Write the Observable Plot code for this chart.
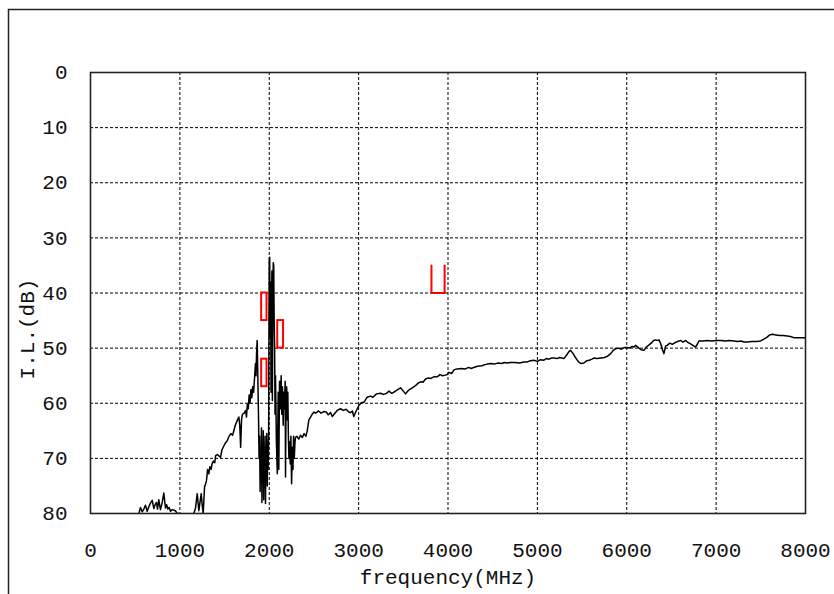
<!DOCTYPE html>
<html>
<head>
<meta charset="utf-8">
<script src="https://cdn.jsdelivr.net/npm/d3@7"></script>
<script src="https://cdn.jsdelivr.net/npm/@observablehq/plot@0.6"></script>
<style>
  html, body { margin: 0; padding: 0; background: #fff; }
  #chart svg { display: block; }
</style>
</head>
<body>
<div id="chart"></div>
<script>
// Measured insertion loss (frequency in MHz, I.L. in dB)
const freq = [
  500, 541, 559, 578, 596, 615, 634, 652, 671, 690, 709, 725, 738, 750, 764, 783, 800, 820, 839, 852,
  865, 880, 895, 912, 932, 950, 970, 1000, 1050, 1100, 1140, 1156, 1175, 1194, 1212, 1225, 1239, 1250, 1261, 1276,
  1290, 1298, 1310, 1324, 1335, 1350, 1360, 1375, 1390, 1400, 1420, 1440, 1455, 1470, 1490, 1510, 1530, 1550, 1570, 1590,
  1605, 1620, 1640, 1650, 1660, 1670, 1680, 1690, 1700, 1720, 1735, 1745, 1755, 1765, 1775, 1785, 1795, 1805, 1815, 1825,
  1835, 1846, 1852, 1858, 1865, 1872, 1880, 1886, 1892, 1898, 1903, 1908, 1913, 1918, 1923, 1928, 1933, 1938, 1943, 1948,
  1953, 1958, 1963, 1968, 1973, 1978, 1983, 1988, 1993, 1997, 2000, 2005, 2010, 2015, 2020, 2025, 2030, 2035, 2040, 2045,
  2050, 2055, 2060, 2065, 2070, 2080, 2090, 2100, 2107, 2115, 2125, 2133, 2140, 2148, 2156, 2163, 2170, 2178, 2182, 2188,
  2195, 2201, 2208, 2214, 2220, 2228, 2235, 2242, 2250, 2258, 2265, 2272, 2280, 2288, 2294, 2310, 2330, 2350, 2370, 2390,
  2410, 2425, 2443, 2462, 2480, 2500, 2520, 2552, 2580, 2610, 2640, 2660, 2686, 2705, 2730, 2760, 2797, 2830, 2860, 2890,
  2909, 2930, 2946, 2970, 3003, 3030, 3060, 3096, 3130, 3160, 3200, 3245, 3280, 3310, 3340, 3370, 3394, 3420, 3450, 3469,
  3500, 3525, 3560, 3600, 3637, 3670, 3700, 3720, 3749, 3780, 3810, 3840, 3879, 3910, 3940, 3970, 3991, 4010, 4040, 4070,
  4103, 4150, 4190, 4230, 4260, 4289, 4330, 4380, 4410, 4439, 4480, 4520, 4560, 4600, 4630, 4663, 4700, 4750, 4800, 4850,
  4887, 4920, 4960, 5000, 5036, 5070, 5100, 5130, 5160, 5185, 5220, 5250, 5275, 5297, 5330, 5355, 5371, 5400, 5430, 5460,
  5490, 5520, 5550, 5580, 5610, 5632, 5670, 5710, 5750, 5782, 5820, 5850, 5875, 5910, 5940, 5970, 6006, 6030, 6060, 6080,
  6099, 6130, 6160, 6192, 6220, 6250, 6280, 6300, 6322, 6340, 6360, 6380, 6400, 6416, 6435, 6453, 6480, 6510, 6540, 6570,
  6602, 6630, 6660, 6677, 6710, 6740, 6770, 6790, 6807, 6850, 6900, 6950, 7012, 7060, 7100, 7150, 7199, 7240, 7280, 7311,
  7350, 7400, 7450, 7498, 7530, 7570, 7600, 7628, 7670, 7710, 7750, 7796, 7830, 7871, 7930, 8000
];
const il = [
  82, 80, 78.9, 79.7, 79.2, 78.5, 79.6, 78.8, 78.1, 77.6, 79.1, 78.3, 78.0, 79.2, 77.5, 79.3, 78.2, 76.3, 79.0, 78.4,
  79.2, 78.9, 79.6, 79.3, 79.4, 79.5, 80.0, 80.0, 80.5, 81, 80.5, 80, 79, 76.4, 79.5, 78, 76.4, 78.5, 80, 75.2,
  74.5, 74, 72, 72.8, 71.5, 72, 71, 70.5, 70.8, 69.5, 69.3, 69.6, 69.8, 68.5, 67.8, 67.2, 66.8, 66, 65.5, 65.8,
  64.9, 64.0, 63.2, 62.8, 62.5, 64, 68.0, 63, 62, 61.8, 61.3, 62.5, 60.2, 61, 58.5, 60, 57.5, 59, 57, 58,
  55.5, 52.8, 55, 51, 48.6, 55, 62.5, 70, 66, 76, 68, 72, 64.5, 78, 67, 71, 65, 77.5, 69, 73,
  66, 78.2, 68, 71, 65.5, 75, 67, 72, 66, 45, 34, 33.5, 48, 38, 58, 42, 36, 59.5, 40, 34.5,
  35, 45, 50, 62, 55, 67, 72.8, 58, 72, 56, 61, 55, 62, 57, 64, 58, 61, 56, 73.4, 60,
  57, 63, 58, 66, 70, 67, 71, 66, 74.6, 68, 72, 66, 70, 67, 66.2, 66, 66.5, 65.8, 66.2, 65.5,
  66, 65, 63, 62.5, 62, 61.6, 61.8, 61.4, 61.8, 61.5, 61.6, 62.1, 61.7, 62.4, 61.9, 61.3, 61.0, 61.3, 61.1, 61.6,
  61.7, 61.4, 62.4, 61.5, 60.4, 59.9, 59.8, 58.9, 58.7, 58.9, 58.3, 58.2, 58.4, 58.2, 57.8, 58.2, 58.0, 57.7, 57.4, 57.2,
  57.8, 58.3, 57.6, 57.2, 56.8, 56.3, 56.1, 56.2, 55.6, 55.4, 55.5, 55.2, 55.2, 54.8, 55.0, 54.9, 54.8, 54.4, 54.6, 53.9,
  53.8, 53.7, 53.8, 53.5, 53.7, 53.5, 53.3, 53.2, 53.0, 52.9, 52.8, 52.9, 52.7, 52.8, 52.6, 52.7, 52.6, 52.6, 52.7, 52.5,
  52.5, 52.3, 52.2, 52.4, 52.1, 52.2, 51.9, 52.0, 51.8, 51.8, 51.9, 51.7, 51.8, 51.9, 51.2, 50.6, 50.4, 51.0, 51.8, 52.5,
  52.8, 52.7, 52.3, 52.2, 52.0, 51.8, 51.9, 51.8, 51.7, 51.5, 51.0, 50.4, 50.1, 50.0, 50.2, 49.9, 49.9, 50.0, 49.7, 49.8,
  49.5, 49.9, 50.3, 50.4, 49.8, 49.4, 49.0, 48.6, 48.5, 48.6, 48.5, 49.2, 50.3, 51.0, 49.6, 49.5, 49.1, 49.3, 49.0, 48.8,
  48.6, 48.9, 48.6, 48.9, 49.2, 49.5, 49.8, 49.3, 48.7, 48.7, 48.6, 48.7, 48.6, 48.6, 48.7, 48.6, 48.7, 48.8, 48.7, 48.9,
  48.9, 48.8, 48.8, 48.7, 48.4, 48.0, 47.6, 47.5, 47.6, 47.7, 47.7, 47.8, 47.9, 48.1, 48.1, 48.1
];

// Specification boxes (red)
const boxF1 = [1915, 1915, 2095];
const boxF2 = [1975, 1975, 2160];
const boxTop = [40, 52, 45];
const boxBottom = [45, 57, 50];
// Open-top spec mark ("U")
const uF = [3815, 3815, 3962, 3962];
const uIL = [35, 40, 40, 35];

const xTicks = [0, 1000, 2000, 3000, 4000, 5000, 6000, 7000, 8000];
const yTicks = [0, 10, 20, 30, 40, 50, 60, 70, 80];

const curve = freq.map((f, i) => ({f, v: il[i]}));
const boxes = boxF1.map((f, i) => ({f1: f, f2: boxF2[i], t: boxTop[i], b: boxBottom[i]}));
const uMark = uF.map((f, i) => ({f, v: uIL[i]}));

const font = "'Liberation Mono', 'DejaVu Sans Mono', monospace";
const fmt = d => String(d);

const chart = Plot.plot({
  width: 834,
  height: 594,
  marginLeft: 90,
  marginRight: 29,
  marginTop: 72,
  marginBottom: 81,
  style: {fontFamily: font, fontSize: "21px", color: "#111", background: "transparent"},
  x: {domain: [0, 8000]},
  y: {domain: [0, 80], reverse: true},
  marks: [
    Plot.frame({stroke: "#222", strokeWidth: 1.5, insetLeft: -82, insetTop: -63, insetRight: -200, insetBottom: -200}),
    Plot.gridX(xTicks, {stroke: "#000", strokeOpacity: 1, strokeWidth: 1, strokeDasharray: "3,2"}),
    Plot.gridY(yTicks, {stroke: "#000", strokeOpacity: 1, strokeWidth: 1, strokeDasharray: "3,2"}),
    Plot.line(curve, {x: "f", y: "v", stroke: "#000", strokeWidth: 1.5, clip: true}),
    Plot.rect(boxes, {x1: "f1", x2: "f2", y1: "t", y2: "b", fill: "none", stroke: "#ff0000", strokeWidth: 2}),
    Plot.line(uMark, {x: "f", y: "v", stroke: "#ff0000", strokeWidth: 2}),
    Plot.frame({stroke: "#222", strokeWidth: 1.6}),
    Plot.axisX(xTicks, {tickSize: 0, tickPadding: 29, label: null, fontSize: 21, tickFormat: fmt}),
    Plot.axisY(yTicks, {tickSize: 0, tickPadding: 23, label: null, fontSize: 21, tickFormat: fmt}),
    Plot.text(["frequency(MHz)"], {frameAnchor: "bottom", dy: 64, fontSize: 21, lineAnchor: "middle", textAnchor: "middle"}),
    Plot.text(["I.L.(dB)"], {frameAnchor: "left", dx: -63, dy: 36, rotate: -90, fontSize: 21, lineAnchor: "middle", textAnchor: "middle"})
  ]
});
document.getElementById("chart").appendChild(chart);
</script>
</body>
</html>
